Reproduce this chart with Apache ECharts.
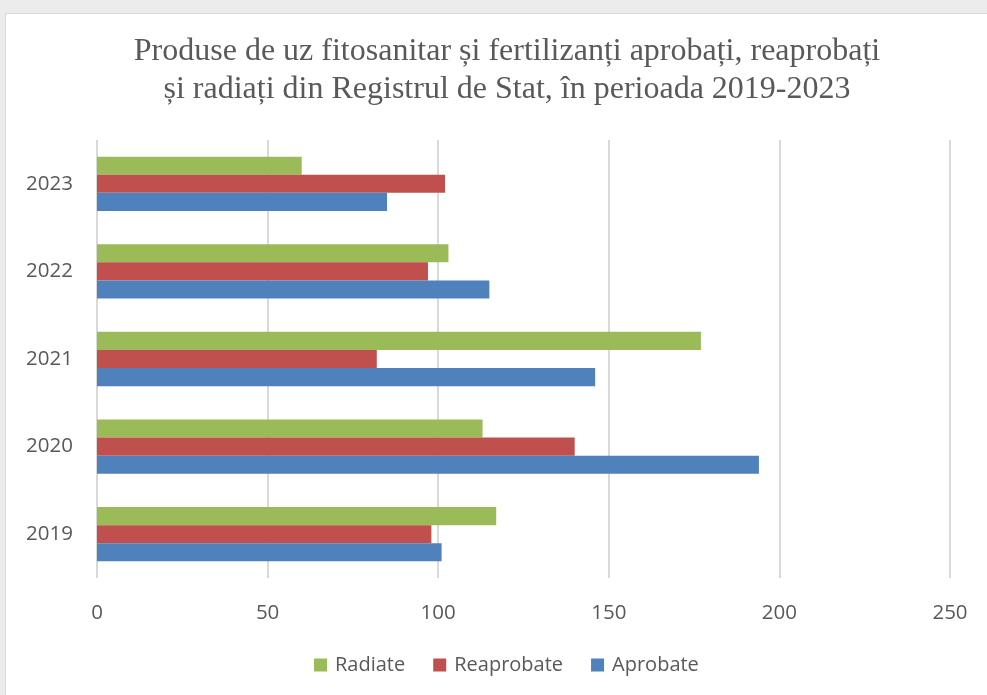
<!DOCTYPE html>
<html><head><meta charset="utf-8">
<script src="https://cdn.jsdelivr.net/npm/echarts@6/dist/echarts.min.js"></script>
<style>
html,body{margin:0;padding:0;width:987px;height:695px;background:#ececec;overflow:hidden}
#panel{position:absolute;left:5px;top:13px;width:990px;height:690px;background:#fff;border:1px solid #d9d9d9;box-sizing:border-box}
#chart{position:absolute;left:0;top:0;width:987px;height:695px}
</style></head>
<body>
<div id="panel"></div>
<div id="chart"></div>
<script>
const categories = ['2019', '2020', '2021', '2022', '2023'];
const radiate = [117, 113, 177, 103, 60];
const reaprobate = [98, 140, 82, 97, 102];
const aprobate = [101, 194, 146, 115, 85];
const seriesNames = ['Radiate', 'Reaprobate', 'Aprobate'];
const colors = ['#9bbb59', '#c0504d', '#4f81bd'];
const titleLines = ['Produse de uz fitosanitar și fertilizanți aprobați, reaprobați', 'și radiați din Registrul de Stat, în perioada 2019-2023'];

const chart = echarts.init(document.getElementById('chart'), null, {renderer: 'canvas'});
const dataSets = [radiate, reaprobate, aprobate];
chart.setOption({
  backgroundColor: 'transparent',
  animation: false,
  graphic: [{
    type: 'text',
    x: 507, y: 33,
    style: {
      text: titleLines.join('\n'),
      x: 0, y: 0,
      align: 'center', verticalAlign: 'top',
      fontFamily: 'Liberation Serif', fontWeight: 'normal', fontSize: 32, lineHeight: 38,
      fill: '#595959'
    }
  }],
  legend: {
    data: seriesNames,
    bottom: 20,
    left: 314,
    padding: 0,
    itemWidth: 13, itemHeight: 13, itemGap: 28,
    icon: 'rect',
    textStyle: {fontFamily: 'Open Sans', fontSize: 20, color: '#595959', padding: [0, 0, 0, 3]}
  },
  grid: {left: 97, right: 37, top: 140, bottom: 117},
  xAxis: {
    type: 'value', min: 0, max: 250, interval: 50,
    axisLine: {show: false}, axisTick: {show: false},
    splitLine: {lineStyle: {color: '#d9d9d9', width: 2}},
    axisLabel: {fontFamily: 'Open Sans', fontSize: 20.5, color: '#595959', margin: 25}
  },
  yAxis: {
    type: 'category', data: categories,
    axisLine: {show: false}, axisTick: {show: false},
    axisLabel: {fontFamily: 'Open Sans', fontSize: 20.5, color: '#595959', margin: 24}
  },
  series: seriesNames.map((n, i) => ({
    name: n, type: 'bar', data: dataSets[i],
    barGap: '0%', barCategoryGap: '38%',
    itemStyle: {color: colors[i]}
  }))
});
</script>
</body></html>
